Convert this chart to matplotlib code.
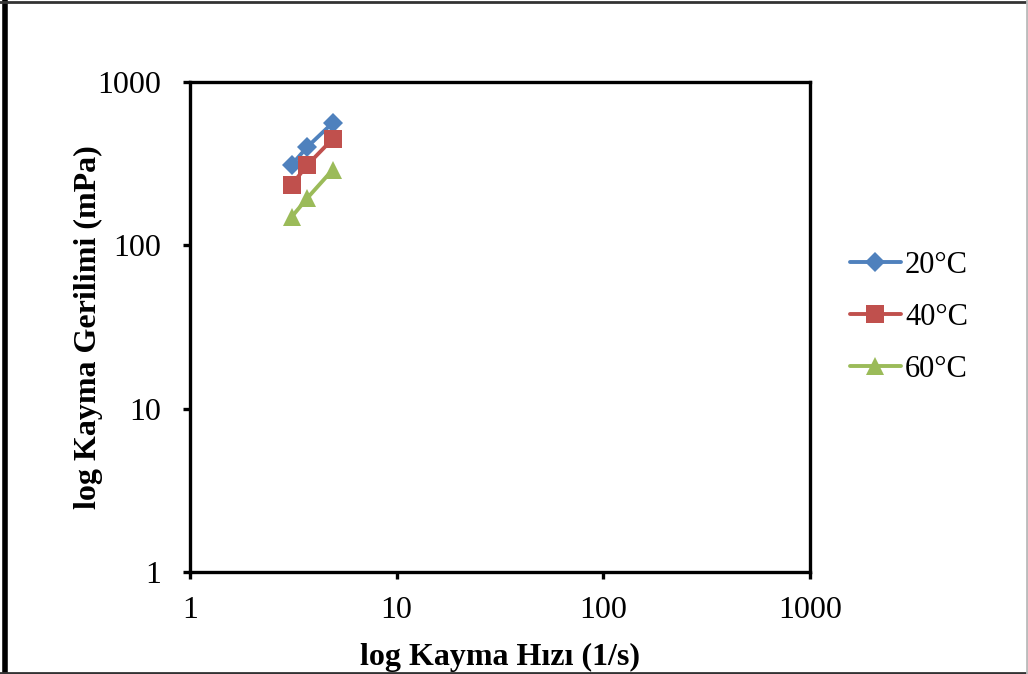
import matplotlib
matplotlib.use("Agg")
import matplotlib.pyplot as plt
from matplotlib.lines import Line2D

# Shear rate (1/s) and shear stress (mPa) at three temperatures
shear_rate = [3.1, 3.7, 4.9]
stress_20 = [311, 401, 562]
stress_40 = [234, 311, 448]
stress_60 = [149, 195, 290]
series_labels = ["20°C", "40°C", "60°C"]
x_ticks = [1, 10, 100, 1000]
y_ticks = [1, 10, 100, 1000]

plt.rcParams["font.family"] = ["Liberation Serif", "DejaVu Serif"]

fig = plt.figure(figsize=(10.28, 6.74), dpi=100)
ax = fig.add_axes([190 / 1028, 1 - 572 / 674, 620 / 1028, 490 / 674])

styles = [
    (stress_20, "#4F81BD", "D", 10),
    (stress_40, "#C0504D", "s", 13.5),
    (stress_60, "#9BBB59", "^", 13.5),
]
for (vals, color, marker, ms), label in zip(styles, series_labels):
    ax.plot(shear_rate, vals, color=color, marker=marker, markersize=ms,
            linewidth=2.8, label=label, markeredgewidth=0,
            solid_capstyle="round")

ax.set_xscale("log")
ax.set_yscale("log")
ax.set_xlim(1, 1000)
ax.set_ylim(1, 1000)
ax.set_xticks(x_ticks)
ax.set_xticklabels([str(v) for v in x_ticks])
ax.set_yticks(y_ticks)
ax.set_yticklabels([str(v) for v in y_ticks])
ax.minorticks_off()

for sp in ax.spines.values():
    sp.set_linewidth(2.4)
    sp.set_color("black")
ax.tick_params(axis="both", which="major", direction="out", length=5,
               width=2.4, labelsize=23, colors="black")
ax.tick_params(axis="x", pad=12)
ax.tick_params(axis="y", pad=16)

ax.set_xlabel("log Kayma Hızı (1/s)", fontsize=23, fontweight="bold", labelpad=13)
ax.set_ylabel("log Kayma Gerilimi (mPa)", fontsize=23, fontweight="bold", labelpad=-4)

leg = ax.legend(loc="center left", bbox_to_anchor=(1.044, 0.52), frameon=False,
                fontsize=22, handlelength=1.7, handletextpad=0.12,
                labelspacing=0.75, borderaxespad=0)

# Outer frame of the figure
fig.add_artist(Line2D([5 / 1028, 5 / 1028], [0, 1], color="black", linewidth=4,
                      transform=fig.transFigure))
fig.add_artist(Line2D([0, 1], [1 - 1.5 / 674, 1 - 1.5 / 674], color="#333333",
                      linewidth=2, transform=fig.transFigure))
fig.add_artist(Line2D([0, 1], [1.5 / 674, 1.5 / 674], color="#333333",
                      linewidth=2, transform=fig.transFigure))
fig.add_artist(Line2D([1 - 1.5 / 1028, 1 - 1.5 / 1028], [0, 1], color="#bbbbbb",
                      linewidth=2, transform=fig.transFigure))

fig.savefig("out.png", dpi=100)
